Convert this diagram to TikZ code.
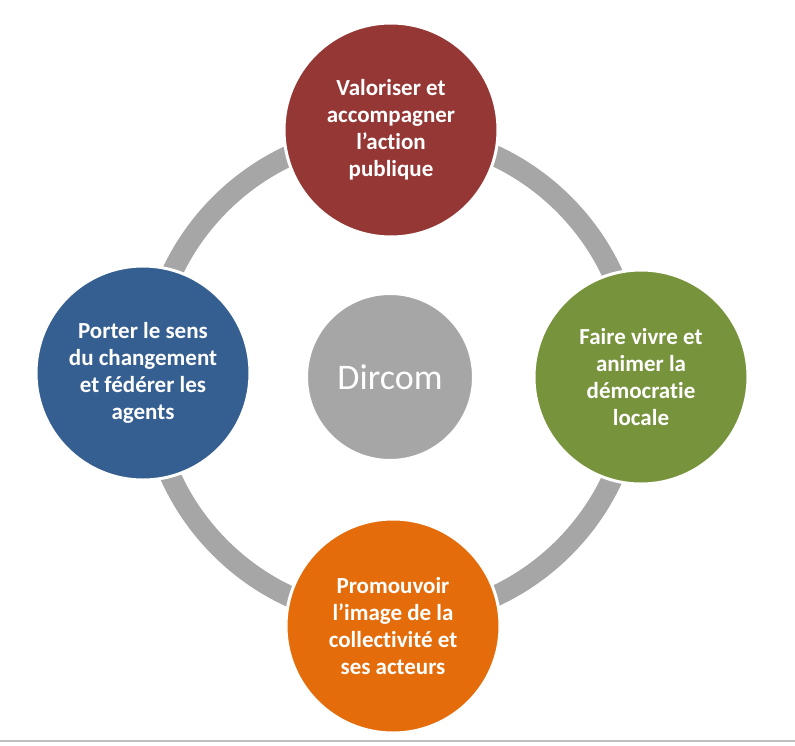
\documentclass[tikz,border=0pt]{standalone}
\usepackage{fontspec}
\setmainfont[Ligatures={NoCommon}]{Carlito}
\definecolor{cred}{HTML}{953735}
\definecolor{cblue}{HTML}{365F91}
\definecolor{cgreen}{HTML}{77933C}
\definecolor{corange}{HTML}{E46C0A}
\definecolor{cgray}{HTML}{A6A6A6}
\definecolor{cline}{HTML}{BFBFBF}
\begin{document}
\begin{tikzpicture}[x=1pt,y=-1pt,
  outer/.style={circle, draw=white, line width=3pt, minimum size=214pt, inner sep=0pt,
    align=center, text=white, font=\fontsize{23}{27}\selectfont\bfseries},
  inner/.style={circle, fill=cgray, draw=white, line width=2pt, minimum size=166pt, inner sep=0pt,
    text=white, font=\fontsize{36}{40}\selectfont}]
\useasboundingbox (0,0) rectangle (795,745);
\coordinate (ctr) at (392,376);
\draw[cgray, line width=21pt] (ctr) circle[radius=243];
\node[inner] (dircom) at (390,377) {Dircom};
\node[outer, fill=cred] (top) at (391,130) {Valoriser et\\accompagner\\l’action\\publique};
\node[outer, fill=cgreen] (right) at (641,377) {Faire vivre et\\animer la\\démocratie\\locale};
\node[outer, fill=corange] (bottom) at (393,626) {Promouvoir\\l’image de la\\collectivité et\\ses acteurs};
\node[outer, fill=cblue] (left) at (143,373) {Porter le sens\\du changement\\et fédérer les\\agents};
\coordinate (la) at (0,741);
\coordinate (lb) at (795,741);
\draw[cline, line width=1.5pt] (la) -- (lb);
\end{tikzpicture}
\end{document}
